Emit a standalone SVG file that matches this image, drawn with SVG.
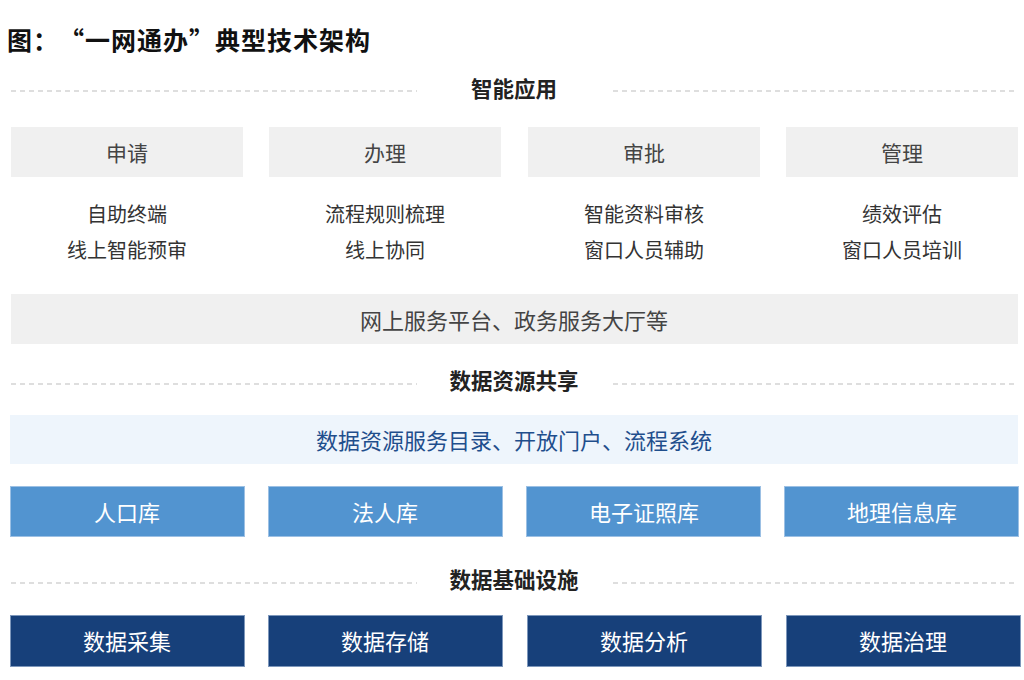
<svg xmlns="http://www.w3.org/2000/svg" width="1024" height="680" viewBox="0 0 1024 680">
<style>
text{font-family:"Noto Sans CJK SC","Noto Sans",sans-serif;text-anchor:middle;dominant-baseline:central}
.title{font-size:25px;font-weight:bold;fill:#111;text-anchor:start}
.sec{font-size:21.5px;font-weight:bold;fill:#222}
.dash{stroke:#bdbdbd;stroke-width:1.2;stroke-dasharray:5 4;fill:none}
.gray{fill:#f0f0f0}
.gt{font-size:21px;fill:#444}
.dt{font-size:20px;fill:#333}
.wide{font-size:22px;fill:#444}
.lb{fill:#eef5fc}
.lbt{font-size:22px;fill:#1f4e8c}
.mid{fill:#5294d0;stroke:#9cc0e4;stroke-width:1}
.dark{fill:#17407a;stroke:#7d97bb;stroke-width:1}
.wt{font-size:22px;fill:#fff}
</style>
<text class="title" x="7 33 59 85 111 137 163 189 215 241 267 293 319 345" y="39">图：“一网通办”典型技术架构</text>
<g id="connectors">
<line class="dash" x1="11" y1="91" x2="417" y2="91"/>
<line class="dash" x1="613" y1="91" x2="1018" y2="91"/>
<line class="dash" x1="11" y1="384" x2="417" y2="384"/>
<line class="dash" x1="613" y1="384" x2="1018" y2="384"/>
<line class="dash" x1="11" y1="583" x2="417" y2="583"/>
<line class="dash" x1="613" y1="583" x2="1018" y2="583"/>
</g>
<g id="sec-app"><text class="sec" x="514" y="87.5">智能应用</text></g>
<g id="n-shenqing"><rect class="gray" x="11" y="127" width="232" height="50"/><text class="gt" x="127" y="151.5">申请</text>
<text class="dt" x="127" y="213.5">自助终端</text><text class="dt" x="127" y="249.5">线上智能预审</text></g>
<g id="n-banli"><rect class="gray" x="269" y="127" width="232" height="50"/><text class="gt" x="385" y="151.5">办理</text>
<text class="dt" x="385" y="213.5">流程规则梳理</text><text class="dt" x="385" y="249.5">线上协同</text></g>
<g id="n-shenpi"><rect class="gray" x="528" y="127" width="232" height="50"/><text class="gt" x="644" y="151.5">审批</text>
<text class="dt" x="644" y="213.5">智能资料审核</text><text class="dt" x="644" y="249.5">窗口人员辅助</text></g>
<g id="n-guanli"><rect class="gray" x="786" y="127" width="232" height="50"/><text class="gt" x="902" y="151.5">管理</text>
<text class="dt" x="902" y="213.5">绩效评估</text><text class="dt" x="902" y="249.5">窗口人员培训</text></g>
<g id="n-platform"><rect class="gray" x="11" y="294" width="1007" height="50"/><text class="wide" x="514" y="318.5">网上服务平台、政务服务大厅等</text></g>
<g id="sec-data"><text class="sec" x="514" y="379.5">数据资源共享</text></g>
<g id="n-catalog"><rect class="lb" x="10" y="415" width="1008" height="49"/><text class="lbt" x="514" y="438.5">数据资源服务目录、开放门户、流程系统</text></g>
<g id="n-renkou"><rect class="mid" x="10.5" y="486.5" width="234" height="50"/><text class="wt" x="127" y="510.5">人口库</text></g>
<g id="n-faren"><rect class="mid" x="268.5" y="486.5" width="234" height="50"/><text class="wt" x="385" y="510.5">法人库</text></g>
<g id="n-zhengzhao"><rect class="mid" x="526.5" y="486.5" width="234" height="50"/><text class="wt" x="644" y="510.5">电子证照库</text></g>
<g id="n-dili"><rect class="mid" x="784.5" y="486.5" width="234" height="50"/><text class="wt" x="902" y="510.5">地理信息库</text></g>
<g id="sec-infra"><text class="sec" x="514" y="578.5">数据基础设施</text></g>
<g id="n-caiji"><rect class="dark" x="10.5" y="615.5" width="234" height="51"/><text class="wt" x="127" y="639.5">数据采集</text></g>
<g id="n-cunchu"><rect class="dark" x="268.5" y="615.5" width="234" height="51"/><text class="wt" x="385" y="639.5">数据存储</text></g>
<g id="n-fenxi"><rect class="dark" x="527.5" y="615.5" width="234" height="51"/><text class="wt" x="644" y="639.5">数据分析</text></g>
<g id="n-zhili"><rect class="dark" x="786.5" y="615.5" width="234" height="51"/><text class="wt" x="903" y="639.5">数据治理</text></g>
</svg>
